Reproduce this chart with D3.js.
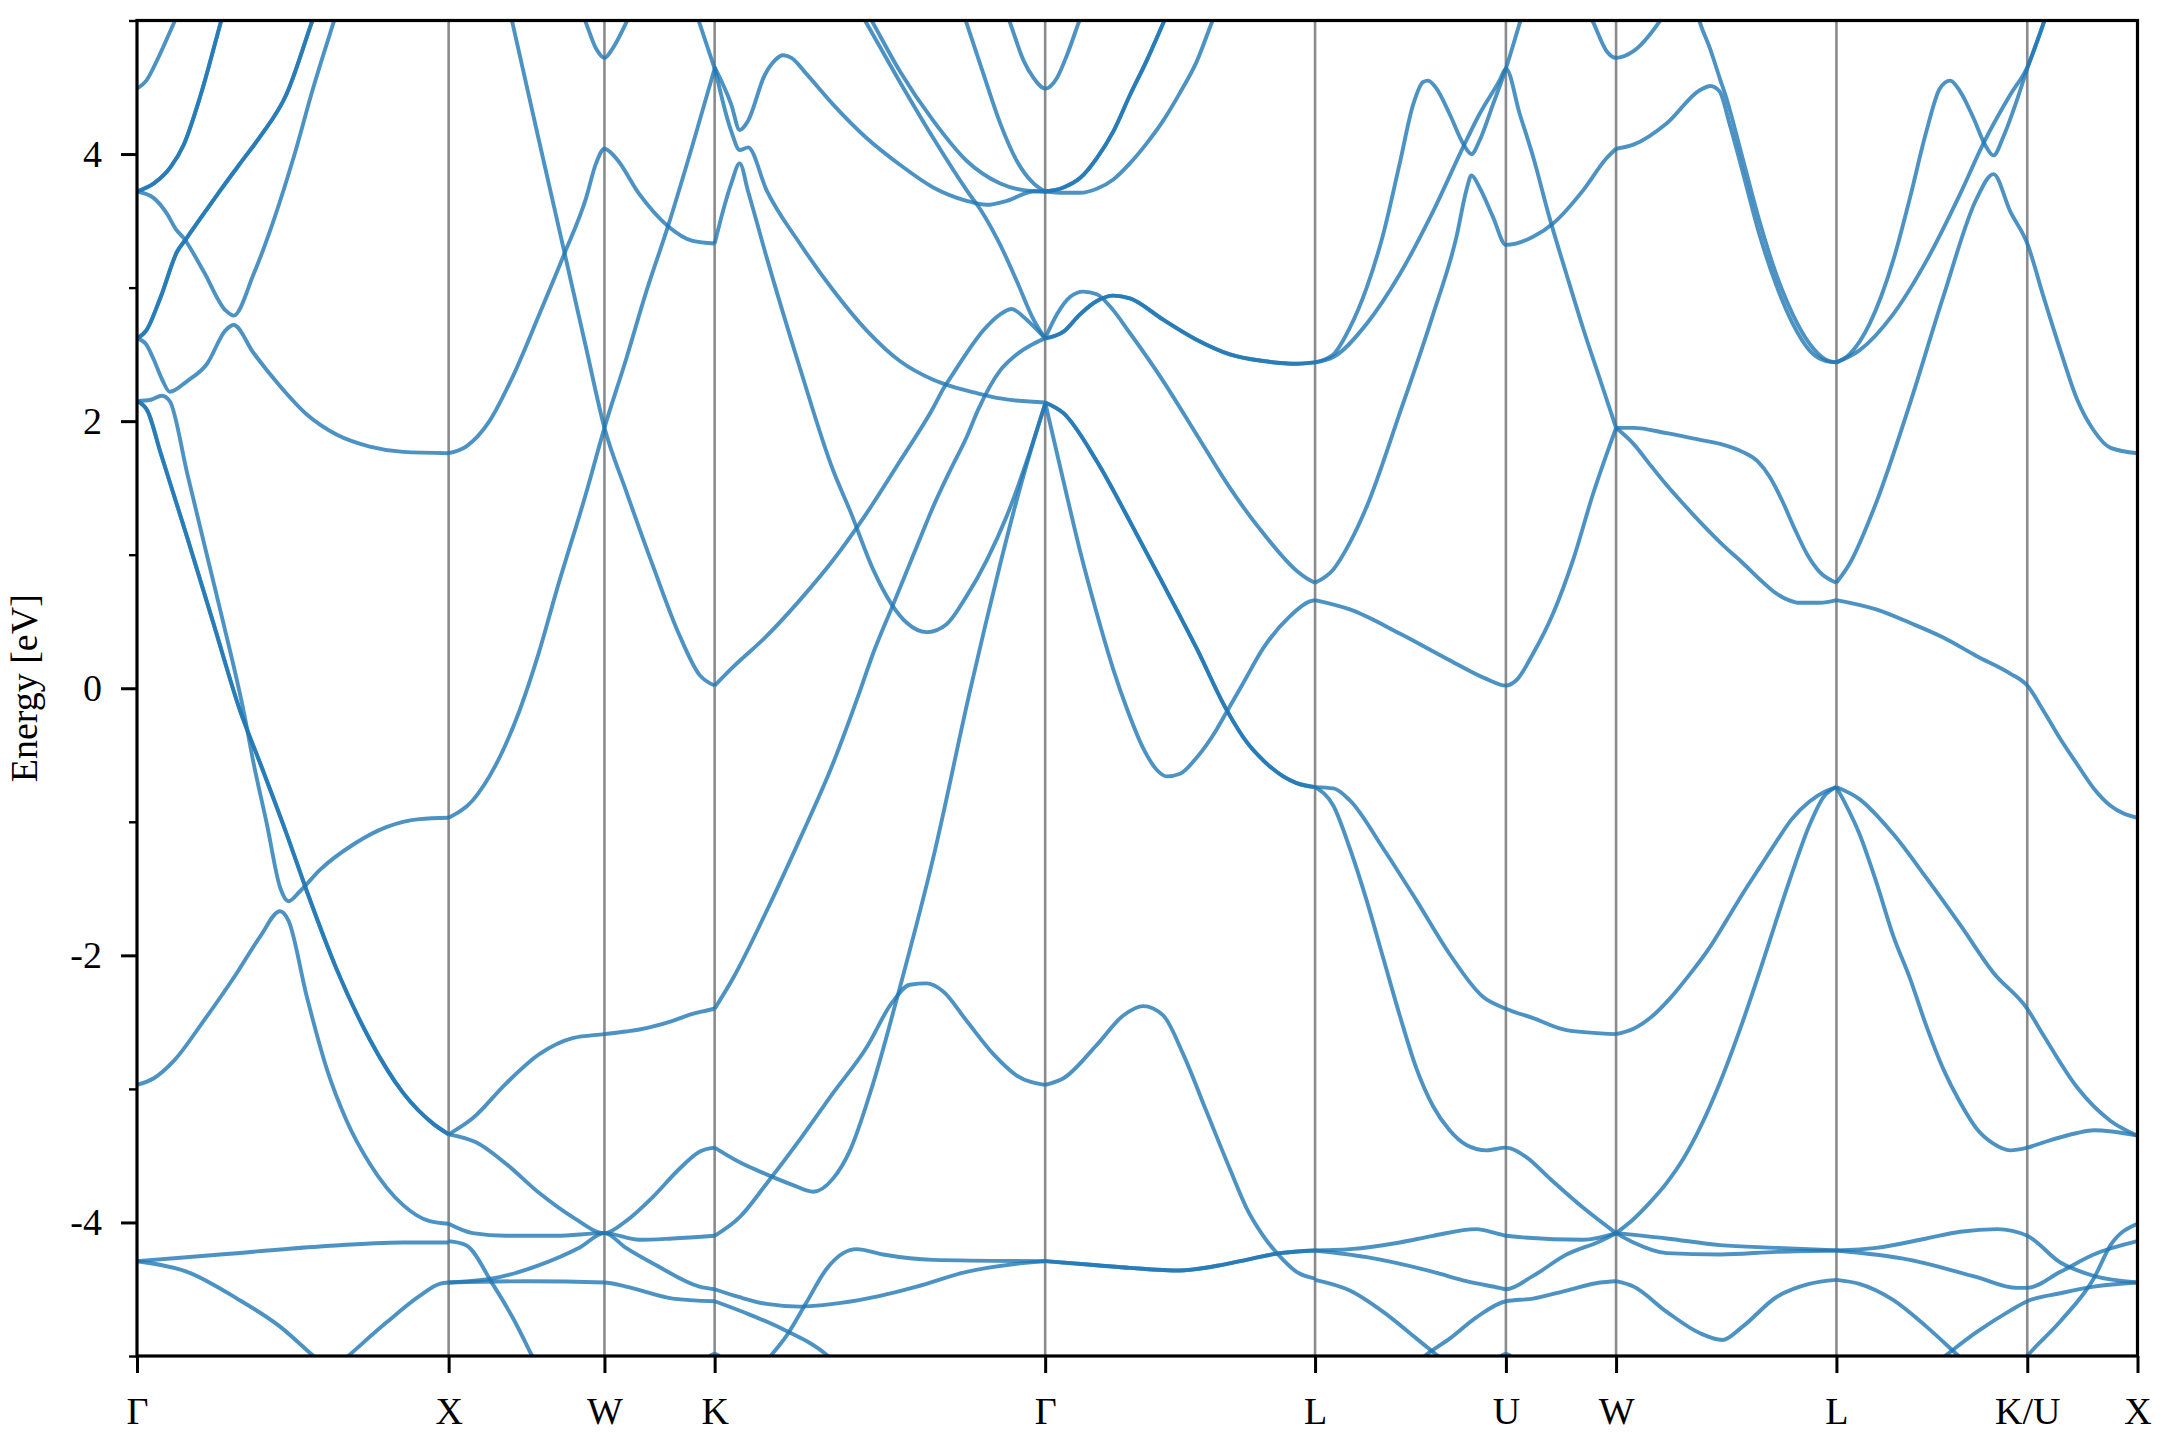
<!DOCTYPE html>
<html><head><meta charset="utf-8">
<script src="https://cdn.jsdelivr.net/npm/d3@7"></script>
<style>
html,body{margin:0;padding:0;background:#fff;}
svg{display:block;}
</style></head><body>
<svg id="chart" width="2160" height="1440"></svg>
<script>
// ---- high-symmetry path (k-distance in units of 2pi/a) ----
const kLabels = ["Γ","X","W","K","Γ","L","U","W","L","K/U","X"];
const kTicks  = [0, 1, 1.5, 1.8536, 2.9142, 3.7803, 4.3927, 4.7462, 5.4533, 6.0657, 6.4194];
const yMajorTicks = [-4, -2, 0, 2, 4];
const yMinorTicks = [-5, -3, -1, 1, 3, 5];
const twice = c => [c, c]; // doubly degenerate bands drawn twice

// ---- bands, each a list of [k, E (eV)] ----
const bandsGX = [
  [[0,4.49],[0.03,4.55],[0.07,4.73],[0.118,4.98],[0.16,5.2]],
  ...twice([[0,3.72],[0.054,3.78],[0.107,3.90],[0.15,4.07],[0.204,4.44],[0.268,4.98],[0.294,5.2]]),
  ...twice([[0,2.62],[0.03,2.68],[0.076,2.93],[0.129,3.27],[0.156,3.36],[0.204,3.52],[0.268,3.73],[0.331,3.93],[0.395,4.13],[0.48,4.45],[0.56,4.98],[0.593,5.2]]),
  [[0,3.72],[0.054,3.67],[0.097,3.55],[0.124,3.44],[0.15,3.37],[0.214,3.12],[0.284,2.83],[0.31,2.79],[0.374,3.10],[0.438,3.50],[0.502,3.97],[0.566,4.50],[0.630,4.98],[0.66,5.2]],
  [[0,2.62],[0.028,2.58],[0.054,2.46],[0.081,2.31],[0.105,2.22],[0.161,2.30],[0.225,2.43],[0.284,2.68],[0.31,2.72],[0.374,2.51],[0.46,2.26],[0.545,2.05],[0.64,1.90],[0.747,1.81],[0.854,1.77],[1,1.76]],
  [[0,2.15],[0.044,2.16],[0.08,2.19],[0.105,2.15],[0.161,1.61],[0.225,0.99],[0.278,0.48],[0.342,-0.17],[0.374,-0.56],[0.417,-1.02],[0.459,-1.49],[0.486,-1.595],[0.523,-1.52],[0.587,-1.36],[0.694,-1.17],[0.80,-1.04],[0.907,-0.98],[1,-0.97]],
  ...twice([[0,2.15],[0.033,2.08],[0.076,1.76],[0.161,1.13],[0.246,0.48],[0.331,-0.17],[0.395,-0.56],[0.48,-1.09],[0.545,-1.52],[0.64,-2.10],[0.747,-2.63],[0.854,-3.03],[0.95,-3.26],[1,-3.34]]),
  [[0,-2.97],[0.054,-2.92],[0.118,-2.79],[0.214,-2.49],[0.321,-2.13],[0.395,-1.86],[0.459,-1.67],[0.486,-1.74],[0.545,-2.31],[0.609,-2.85],[0.673,-3.24],[0.747,-3.56],[0.854,-3.87],[0.939,-3.99],[1,-4.01]],
  [[0,-4.29],[0.267,-4.24],[0.587,-4.18],[0.854,-4.15],[1,-4.15]],
  [[0,-4.29],[0.161,-4.37],[0.321,-4.57],[0.459,-4.78],[0.571,-5.01],[0.67,-5.2]],
  [[0.58,-5.2],[0.673,-5.01],[0.80,-4.75],[0.907,-4.55],[0.971,-4.46],[1,-4.45]]
];

const bandsXK = [
  [[1,1.76],[1.056,1.81],[1.131,2.00],[1.205,2.33],[1.291,2.80],[1.369,3.24],[1.441,3.67],[1.473,3.93],[1.5,4.04],[1.537,3.97],[1.612,3.70],[1.704,3.46],[1.783,3.35],[1.8536,3.33]],
  [[1.184,5.2],[1.205,4.98],[1.291,4.09],[1.369,3.29],[1.441,2.55],[1.5,1.95],[1.569,1.48],[1.655,0.92],[1.74,0.40],[1.805,0.10],[1.8536,0.02]],
  [[1,-0.97],[1.077,-0.84],[1.15,-0.58],[1.227,-0.17],[1.29,0.27],[1.345,0.72],[1.441,1.46],[1.5,1.95],[1.569,2.46],[1.633,2.96],[1.704,3.46],[1.783,4.07],[1.8536,4.64]],
  [[1.404,5.2],[1.441,4.98],[1.473,4.79],[1.5,4.72],[1.526,4.79],[1.569,4.98],[1.61,5.2]],
  [[1.773,5.2],[1.805,4.98],[1.8536,4.64]],
  [[1,-3.34],[1.077,-3.22],[1.184,-2.96],[1.291,-2.74],[1.398,-2.62],[1.5,-2.59],[1.569,-2.57],[1.612,-2.555],[1.66,-2.53],[1.719,-2.49],[1.78,-2.44],[1.815,-2.42],[1.8536,-2.40]],
  [[1,-3.34],[1.088,-3.40],[1.184,-3.56],[1.291,-3.78],[1.398,-3.96],[1.5,-4.08],[1.569,-3.99],[1.655,-3.81],[1.74,-3.60],[1.805,-3.47],[1.8536,-3.44]],
  [[1,-4.01],[1.077,-4.08],[1.184,-4.10],[1.345,-4.10],[1.5,-4.08],[1.612,-4.13],[1.719,-4.12],[1.8536,-4.10]],
  [[1,-4.14],[1.056,-4.17],[1.141,-4.46],[1.205,-4.71],[1.27,-5.01],[1.31,-5.2]],
  [[1,-4.45],[1.141,-4.42],[1.291,-4.32],[1.419,-4.19],[1.5,-4.08],[1.569,-4.19],[1.666,-4.32],[1.805,-4.48],[1.8536,-4.50]],
  [[1,-4.45],[1.25,-4.44],[1.5,-4.45],[1.569,-4.48],[1.719,-4.57],[1.8536,-4.59]],
  [[1.815,-5.06],[1.8536,-4.985],[1.89,-5.06]]
];

const bandsKG = [
  [[1.8536,4.65],[1.907,4.37],[1.934,4.18],[1.961,4.25],[2.014,4.59],[2.046,4.70],[2.073,4.74],[2.10,4.72],[2.148,4.60],[2.234,4.37],[2.341,4.12],[2.448,3.92],[2.555,3.75],[2.662,3.65],[2.727,3.62],[2.791,3.65],[2.877,3.72],[2.9142,3.72]],
  [[1.8536,4.65],[1.907,4.17],[1.934,4.03],[1.961,4.05],[2.02,3.73],[2.127,3.33],[2.234,2.98],[2.341,2.68],[2.448,2.45],[2.555,2.31],[2.614,2.26],[2.695,2.21],[2.77,2.17],[2.9142,2.14]],
  [[1.8536,3.33],[1.88,3.57],[1.907,3.78],[1.934,3.93],[1.961,3.72],[2.02,3.23],[2.127,2.40],[2.234,1.63],[2.288,1.33],[2.362,0.89],[2.421,0.63],[2.47,0.49],[2.534,0.42],[2.598,0.48],[2.662,0.69],[2.727,0.96],[2.791,1.29],[2.855,1.70],[2.9142,2.13]],
  [[2.287,5.2],[2.341,4.98],[2.448,4.54],[2.555,4.12],[2.662,3.73],[2.716,3.55],[2.77,3.32],[2.823,3.05],[2.877,2.76],[2.9142,2.62]],
  [[2.31,5.2],[2.362,4.98],[2.448,4.62],[2.555,4.25],[2.662,3.95],[2.77,3.78],[2.845,3.73],[2.9142,3.72]],
  [[2.631,5.2],[2.662,4.98],[2.716,4.60],[2.77,4.23],[2.823,3.95],[2.877,3.78],[2.9142,3.72]],
  [[2.768,5.2],[2.802,4.98],[2.845,4.70],[2.877,4.57],[2.9142,4.49],[2.952,4.57],[2.984,4.74],[3.021,4.98],[3.055,5.2]],
  [[1.8536,0.02],[1.913,0.16],[2.02,0.39],[2.127,0.66],[2.234,0.96],[2.341,1.31],[2.448,1.70],[2.555,2.10],[2.587,2.24],[2.62,2.36],[2.662,2.51],[2.716,2.68],[2.77,2.80],[2.807,2.84],[2.845,2.78],[2.877,2.71],[2.9142,2.62]],
  [[1.8536,-2.40],[1.913,-2.17],[2.02,-1.67],[2.127,-1.13],[2.234,-0.56],[2.32,-0.02],[2.362,0.26],[2.427,0.63],[2.502,1.06],[2.555,1.36],[2.609,1.63],[2.662,1.88],[2.70,2.09],[2.77,2.38],[2.823,2.50],[2.877,2.58],[2.9142,2.62]],
  [[1.8536,-3.44],[1.934,-3.55],[2.02,-3.64],[2.105,-3.72],[2.17,-3.77],[2.234,-3.67],[2.288,-3.46],[2.362,-2.96],[2.448,-2.24],[2.555,-1.27],[2.673,-0.02],[2.72,0.45],[2.77,0.93],[2.823,1.41],[2.877,1.85],[2.9142,2.13]],
  [[1.8536,-4.10],[1.934,-3.96],[2.02,-3.71],[2.127,-3.38],[2.234,-3.03],[2.341,-2.69],[2.421,-2.36],[2.48,-2.22],[2.534,-2.21],[2.587,-2.27],[2.662,-2.49],[2.748,-2.74],[2.823,-2.90],[2.9142,-2.97]],
  [[1.967,-5.2],[2.03,-5.01],[2.084,-4.85],[2.148,-4.60],[2.212,-4.35],[2.266,-4.23],[2.309,-4.20],[2.394,-4.24],[2.555,-4.28],[2.9142,-4.29]],
  [[1.8536,-4.50],[1.934,-4.56],[2.02,-4.61],[2.127,-4.63],[2.234,-4.61],[2.341,-4.57],[2.502,-4.48],[2.662,-4.37],[2.823,-4.31],[2.9142,-4.29]],
  [[1.8536,-4.59],[1.966,-4.69],[2.073,-4.80],[2.223,-5.01],[2.3,-5.2]]
];

const bandsGL = [
  ...twice([[2.9142,3.72],[2.973,3.75],[3.026,3.82],[3.08,3.97],[3.133,4.17],[3.186,4.44],[3.24,4.70],[3.293,4.98],[3.335,5.2]]),
  [[2.9142,3.72],[2.973,3.71],[3.026,3.71],[3.08,3.74],[3.133,3.81],[3.186,3.93],[3.24,4.08],[3.293,4.25],[3.347,4.46],[3.40,4.69],[3.448,4.98],[3.485,5.2]],
  [[2.9142,2.62],[2.952,2.80],[2.994,2.93],[3.037,2.97],[3.08,2.95],[3.122,2.86],[3.186,2.66],[3.293,2.30],[3.40,1.90],[3.507,1.50],[3.614,1.16],[3.721,0.88],[3.763,0.81],[3.7803,0.79]],
  ...twice([[2.9142,2.62],[2.973,2.67],[3.026,2.80],[3.08,2.90],[3.133,2.94],[3.186,2.92],[3.293,2.76],[3.40,2.61],[3.507,2.50],[3.614,2.45],[3.721,2.43],[3.7803,2.44]]),
  ...twice([[2.9142,2.14],[2.973,2.06],[3.08,1.70],[3.186,1.25],[3.293,0.78],[3.40,0.30],[3.496,-0.16],[3.56,-0.40],[3.614,-0.54],[3.678,-0.66],[3.721,-0.71],[3.7803,-0.74]]),
  [[2.9142,2.14],[2.973,1.55],[3.026,1.03],[3.08,0.56],[3.133,0.14],[3.176,-0.15],[3.229,-0.45],[3.272,-0.61],[3.304,-0.66],[3.347,-0.64],[3.40,-0.52],[3.464,-0.31],[3.496,-0.18],[3.55,0.04],[3.614,0.30],[3.70,0.54],[3.763,0.65],[3.7803,0.66]],
  [[2.9142,-2.97],[2.973,-2.92],[3.08,-2.67],[3.165,-2.45],[3.229,-2.38],[3.293,-2.45],[3.357,-2.74],[3.432,-3.17],[3.507,-3.60],[3.56,-3.89],[3.614,-4.10],[3.678,-4.28],[3.721,-4.37],[3.7803,-4.42]],
  ...twice([[2.9142,-4.29],[3.08,-4.32],[3.186,-4.34],[3.347,-4.36],[3.453,-4.33],[3.56,-4.28],[3.667,-4.23],[3.7803,-4.21]])
];

const bandsLW = [
  [[3.7803,2.44],[3.839,2.50],[3.892,2.70],[3.946,3.00],[3.999,3.40],[4.052,3.93],[4.095,4.37],[4.127,4.54],[4.143,4.55],[4.17,4.49],[4.212,4.30],[4.255,4.08],[4.282,4.00],[4.308,4.10],[4.351,4.37],[4.3927,4.64],[4.437,4.98],[4.466,5.2]],
  [[3.7803,2.44],[3.839,2.48],[3.946,2.73],[4.052,3.10],[4.159,3.57],[4.255,4.05],[4.308,4.30],[4.372,4.55],[4.3927,4.64],[4.437,4.30],[4.48,3.98],[4.533,3.52],[4.587,3.10],[4.641,2.69],[4.695,2.31],[4.7462,1.95]],
  [[3.7803,0.79],[3.839,0.89],[3.892,1.09],[3.946,1.36],[4.052,2.06],[4.159,2.80],[4.234,3.38],[4.266,3.73],[4.282,3.84],[4.308,3.75],[4.351,3.53],[4.3927,3.32],[4.48,3.38],[4.544,3.48],[4.641,3.73],[4.716,3.97],[4.7462,4.04]],
  [[3.7803,0.66],[3.892,0.59],[4.052,0.41],[4.212,0.21],[4.33,0.07],[4.3927,0.02],[4.426,0.06],[4.48,0.26],[4.544,0.56],[4.608,0.96],[4.673,1.46],[4.7462,1.95]],
  [[4.63,5.2],[4.674,4.98],[4.716,4.77],[4.7462,4.72],[4.802,4.77],[4.882,4.98],[4.94,5.2]],
  [[3.7803,-0.74],[3.839,-0.88],[3.892,-1.20],[3.946,-1.59],[3.999,-2.02],[4.052,-2.45],[4.106,-2.85],[4.159,-3.13],[4.212,-3.31],[4.266,-3.42],[4.33,-3.46],[4.3927,-3.44],[4.458,-3.51],[4.533,-3.67],[4.641,-3.89],[4.7462,-4.08]],
  [[3.7803,-0.74],[3.839,-0.75],[3.892,-0.84],[3.999,-1.20],[4.106,-1.59],[4.212,-1.99],[4.319,-2.31],[4.3927,-2.40],[4.48,-2.47],[4.587,-2.56],[4.7462,-2.59]],
  [[3.7803,-4.21],[3.892,-4.20],[4.052,-4.15],[4.159,-4.10],[4.298,-4.05],[4.36,-4.08],[4.3927,-4.10],[4.641,-4.13],[4.7462,-4.08]],
  [[3.7803,-4.21],[3.946,-4.26],[4.159,-4.37],[4.266,-4.44],[4.372,-4.49],[4.3927,-4.50],[4.48,-4.40],[4.587,-4.24],[4.695,-4.14],[4.7462,-4.08]],
  [[3.7803,-4.43],[3.892,-4.51],[3.999,-4.67],[4.106,-4.87],[4.18,-5.01],[4.28,-5.2]],
  [[4.05,-5.2],[4.127,-5.01],[4.212,-4.87],[4.298,-4.71],[4.3927,-4.59],[4.48,-4.57],[4.587,-4.51],[4.695,-4.45],[4.7462,-4.44]],
  [[4.355,-5.06],[4.3927,-4.985],[4.43,-5.06]]
];

const bandsWL = [
  [[4.7462,4.04],[4.802,4.07],[4.909,4.23],[5.016,4.48],[5.049,4.51],[5.078,4.47],[5.11,4.23],[5.152,3.87],[5.206,3.40],[5.26,3.02],[5.313,2.73],[5.367,2.53],[5.42,2.45],[5.4533,2.44]],
  [[4.99,5.2],[5.016,4.98],[5.046,4.80],[5.08,4.56],[5.10,4.42],[5.152,3.97],[5.206,3.50],[5.26,3.10],[5.313,2.80],[5.367,2.58],[5.42,2.46],[5.4533,2.44]],
  [[4.7462,1.95],[4.802,1.95],[4.909,1.91],[5.016,1.86],[5.08,1.83],[5.152,1.77],[5.20,1.70],[5.24,1.58],[5.28,1.40],[5.32,1.19],[5.36,1.00],[5.40,0.87],[5.4533,0.79]],
  [[4.7462,1.95],[4.802,1.83],[4.86,1.66],[4.909,1.52],[4.97,1.36],[5.03,1.21],[5.09,1.07],[5.152,0.94],[5.21,0.81],[5.26,0.71],[5.30,0.66],[5.334,0.64],[5.40,0.64],[5.4533,0.66]],
  [[4.7462,-2.59],[4.802,-2.55],[4.86,-2.46],[4.92,-2.32],[4.98,-2.15],[5.044,-1.95],[5.10,-1.74],[5.152,-1.54],[5.21,-1.33],[5.26,-1.15],[5.31,-0.98],[5.366,-0.85],[5.42,-0.77],[5.4533,-0.74]],
  [[4.7462,-4.08],[4.80,-3.98],[4.855,-3.85],[4.91,-3.70],[4.963,-3.52],[5.02,-3.27],[5.08,-2.95],[5.152,-2.50],[5.21,-2.10],[5.26,-1.74],[5.31,-1.39],[5.366,-1.03],[5.41,-0.82],[5.4533,-0.74]],
  [[4.7462,-4.08],[4.802,-4.15],[4.909,-4.23],[5.08,-4.24],[5.26,-4.22],[5.4533,-4.21]],
  [[4.7462,-4.08],[4.909,-4.12],[5.08,-4.17],[5.26,-4.19],[5.4533,-4.21]],
  [[4.7462,-4.44],[4.802,-4.48],[4.909,-4.67],[5.016,-4.83],[5.087,-4.88],[5.152,-4.78],[5.26,-4.56],[5.366,-4.46],[5.4533,-4.43]]
];

const bandsLX = [
  [[5.4533,2.44],[5.495,2.50],[5.56,2.73],[5.635,3.20],[5.689,3.67],[5.742,4.17],[5.785,4.49],[5.818,4.55],[5.85,4.47],[5.893,4.27],[5.93,4.07],[5.957,3.99],[5.989,4.13],[6.032,4.40],[6.0657,4.64],[6.118,4.98],[6.15,5.2]],
  [[5.4533,2.44],[5.527,2.53],[5.635,2.80],[5.742,3.20],[5.85,3.70],[5.925,4.08],[6.01,4.44],[6.0657,4.65],[6.118,4.98],[6.15,5.2]],
  [[5.4533,0.79],[5.495,0.93],[5.581,1.39],[5.689,2.13],[5.796,2.93],[5.904,3.67],[5.957,3.85],[6.011,3.57],[6.0657,3.33],[6.118,2.93],[6.172,2.53],[6.226,2.16],[6.279,1.93],[6.333,1.80],[6.4194,1.76]],
  [[5.4533,0.66],[5.581,0.59],[5.689,0.49],[5.796,0.38],[5.904,0.24],[6.011,0.11],[6.0657,0.02],[6.118,-0.17],[6.172,-0.38],[6.226,-0.57],[6.279,-0.75],[6.333,-0.88],[6.4194,-0.97]],
  [[5.4533,-0.74],[5.527,-1.09],[5.581,-1.45],[5.635,-1.85],[5.689,-2.17],[5.742,-2.53],[5.796,-2.85],[5.85,-3.10],[5.904,-3.30],[5.957,-3.41],[6.011,-3.46],[6.0657,-3.44],[6.118,-3.40],[6.226,-3.33],[6.279,-3.31],[6.4194,-3.35]],
  [[5.4533,-0.74],[5.527,-0.83],[5.635,-1.09],[5.742,-1.42],[5.85,-1.77],[5.957,-2.13],[6.0657,-2.40],[6.118,-2.60],[6.226,-2.99],[6.333,-3.24],[6.4194,-3.35]],
  [[5.4533,-4.21],[5.581,-4.19],[5.742,-4.12],[5.85,-4.07],[5.97,-4.05],[6.0657,-4.10],[6.172,-4.30],[6.279,-4.40],[6.4194,-4.45]],
  [[5.4533,-4.21],[5.689,-4.28],[5.904,-4.41],[6.032,-4.49],[6.0657,-4.49],[6.172,-4.37],[6.279,-4.24],[6.4194,-4.14]],
  [[5.4533,-4.43],[5.527,-4.46],[5.635,-4.58],[5.742,-4.78],[5.85,-5.01],[5.94,-5.2]],
  [[5.69,-5.2],[5.796,-5.01],[5.904,-4.82],[6.011,-4.66],[6.0657,-4.59],[6.172,-4.53],[6.279,-4.48],[6.4194,-4.45]],
  [[6.0,-5.2],[6.0657,-5.0],[6.172,-4.74],[6.279,-4.42],[6.333,-4.17],[6.4194,-4.01]]
];

// ---- drawing ----
const W = 2160, H = 1440;
const plot = {left: 137, right: 2137.5, top: 20.5, bottom: 1356};
const FONT = "'Liberation Serif','Times New Roman',serif";
const x = d3.scaleLinear().domain([kTicks[0], kTicks[kTicks.length-1]]).range([plot.left, plot.right]);
const y = d3.scaleLinear().domain([-5, 5]).range([plot.bottom, plot.top]);

const svg = d3.select("#chart");
svg.append("rect").attr("width", W).attr("height", H).attr("fill", "#fff");
svg.append("defs").append("clipPath").attr("id", "clip")
  .append("rect").attr("x", plot.left).attr("y", plot.top)
  .attr("width", plot.right - plot.left).attr("height", plot.bottom - plot.top);

// vertical high-symmetry lines
svg.append("g").selectAll("line").data(kTicks.slice(1, -1)).join("line")
  .attr("x1", d => x(d)).attr("x2", d => x(d))
  .attr("y1", plot.top).attr("y2", plot.bottom)
  .attr("stroke", "#7f7f7f").attr("stroke-width", 2.6).attr("opacity", 0.9);

// bands
const allBands = [...bandsGX, ...bandsXK, ...bandsKG, ...bandsGL, ...bandsLW, ...bandsWL, ...bandsLX];
const line = d3.line().x(d => x(d[0])).y(d => y(d[1])).curve(d3.curveMonotoneX);
svg.append("g").attr("clip-path", "url(#clip)")
  .selectAll("path").data(allBands).join("path")
  .attr("d", line).attr("fill", "none")
  .attr("stroke", "#1f77b4").attr("stroke-opacity", 0.8)
  .attr("stroke-width", 3.9).attr("stroke-linejoin", "round");

// y axis
const gy = svg.append("g").attr("transform", `translate(${plot.left},0)`)
  .call(d3.axisLeft(y).tickValues(yMajorTicks).tickSize(16).tickPadding(19).tickFormat(d => String(d)));
gy.attr("font-family", FONT).attr("font-size", 38);
gy.select(".domain").remove();
gy.selectAll(".tick line").attr("stroke", "#000").attr("stroke-width", 3);
gy.selectAll(".tick text").attr("fill", "#000");
const gym = svg.append("g").attr("transform", `translate(${plot.left},0)`)
  .call(d3.axisLeft(y).tickValues(yMinorTicks).tickSize(8).tickFormat(""));
gym.select(".domain").remove();
gym.selectAll(".tick line").attr("stroke", "#000").attr("stroke-width", 2.4);

// x axis
const gx = svg.append("g").attr("transform", `translate(0,${plot.bottom})`)
  .call(d3.axisBottom(x).tickValues(kTicks).tickSize(17).tickPadding(24).tickFormat((d, i) => kLabels[i]));
gx.attr("font-family", FONT).attr("font-size", 38);
gx.select(".domain").remove();
gx.selectAll(".tick line").attr("stroke", "#000").attr("stroke-width", 3);
gx.selectAll(".tick text").attr("fill", "#000");

// frame
svg.append("rect").attr("x", plot.left).attr("y", plot.top)
  .attr("width", plot.right - plot.left).attr("height", plot.bottom - plot.top)
  .attr("fill", "none").attr("stroke", "#000").attr("stroke-width", 3.2);

// y label
svg.append("text").attr("transform", `translate(37,${(plot.top + plot.bottom) / 2}) rotate(-90)`)
  .attr("text-anchor", "middle").attr("font-family", FONT).attr("font-size", 38)
  .attr("fill", "#000").text("Energy [eV]");
</script>
</body></html>
